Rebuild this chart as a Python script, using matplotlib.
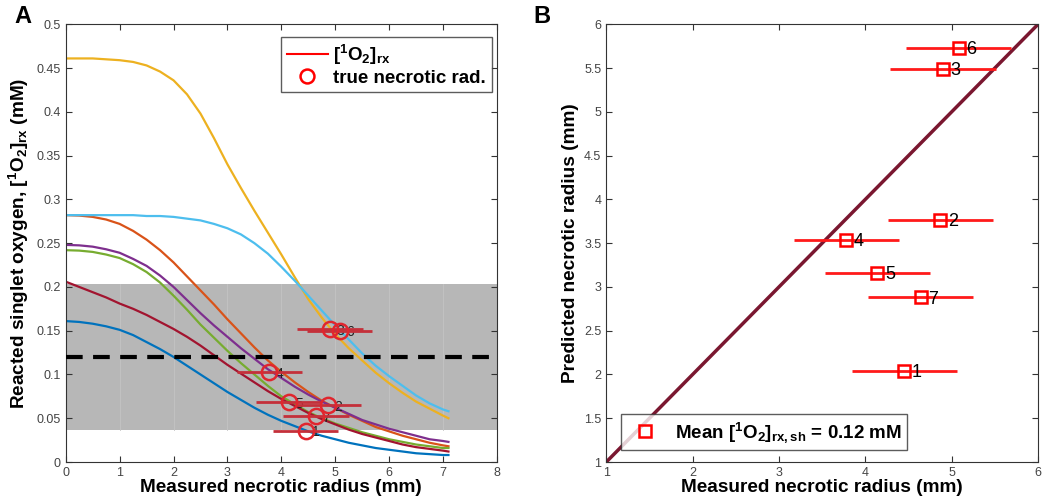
import numpy as np
import matplotlib.pyplot as plt
from matplotlib.lines import Line2D

plt.rcParams['font.family'] = ['Liberation Sans', 'DejaVu Sans']
plt.rcParams['mathtext.default'] = 'regular'

## data
# panel A: reacted singlet oxygen profiles vs radius (mm)
r = [0, 0.25, 0.5, 0.75, 1, 1.25, 1.5, 1.75, 2, 2.25, 2.5, 2.75, 3, 3.25, 3.5, 3.75,
     4, 4.25, 4.5, 4.75, 5, 5.25, 5.5, 5.75, 6, 6.25, 6.5, 6.75, 7, 7.1]
o2_1 = [0.161, 0.160, 0.158, 0.155, 0.151, 0.145, 0.137, 0.129, 0.120, 0.110, 0.100, 0.090, 0.080, 0.071, 0.062,
        0.054, 0.047, 0.041, 0.035, 0.030, 0.026, 0.022, 0.019, 0.016, 0.014, 0.012, 0.010, 0.009, 0.008, 0.008]
o2_2 = [0.282, 0.2815, 0.280, 0.277, 0.272, 0.264, 0.254, 0.242, 0.228, 0.212, 0.196, 0.180, 0.163, 0.147, 0.131,
        0.116, 0.103, 0.091, 0.080, 0.070, 0.062, 0.054, 0.047, 0.040, 0.035, 0.030, 0.026, 0.022, 0.019, 0.018]
o2_3 = [0.461, 0.461, 0.461, 0.460, 0.459, 0.457, 0.453, 0.446, 0.436, 0.420, 0.398, 0.370, 0.340, 0.313, 0.287,
        0.262, 0.237, 0.211, 0.186, 0.165, 0.146, 0.130, 0.116, 0.102, 0.090, 0.079, 0.069, 0.061, 0.053, 0.050]
o2_4 = [0.248, 0.2475, 0.246, 0.243, 0.239, 0.232, 0.224, 0.213, 0.200, 0.185, 0.170, 0.156, 0.143, 0.130, 0.118,
        0.106, 0.096, 0.086, 0.077, 0.069, 0.062, 0.055, 0.048, 0.043, 0.038, 0.034, 0.030, 0.026, 0.024, 0.023]
o2_5 = [0.242, 0.2415, 0.240, 0.237, 0.233, 0.226, 0.217, 0.205, 0.190, 0.174, 0.157, 0.142, 0.127, 0.113, 0.100,
        0.087, 0.075, 0.066, 0.057, 0.050, 0.044, 0.039, 0.034, 0.030, 0.026, 0.023, 0.020, 0.018, 0.016, 0.016]
o2_6 = [0.282, 0.282, 0.282, 0.282, 0.282, 0.282, 0.281, 0.281, 0.280, 0.278, 0.276, 0.272, 0.267, 0.260, 0.250,
        0.238, 0.223, 0.207, 0.190, 0.173, 0.156, 0.140, 0.124, 0.110, 0.098, 0.087, 0.076, 0.067, 0.060, 0.058]
o2_7 = [0.206, 0.200, 0.194, 0.188, 0.181, 0.175, 0.168, 0.160, 0.152, 0.143, 0.133, 0.122, 0.111, 0.101, 0.091,
        0.081, 0.072, 0.064, 0.056, 0.049, 0.043, 0.037, 0.032, 0.028, 0.024, 0.020, 0.017, 0.015, 0.013, 0.012]
curves = [o2_1, o2_2, o2_3, o2_4, o2_5, o2_6, o2_7]
colors = ['#0072BD', '#D95319', '#EDB120', '#7E2F8E', '#77AC30', '#4DBEEE', '#A2142F']

# true necrotic radius (measured) and value on curve
labels = ['1', '2', '3', '4', '5', '6', '7']
meas_r = [4.45, 4.87, 4.90, 3.78, 4.14, 5.08, 4.64]
meas_o2 = [0.036, 0.065, 0.152, 0.103, 0.068, 0.150, 0.052]
meas_err = [0.61, 0.61, 0.61, 0.61, 0.61, 0.61, 0.61]
pred_r = [2.04, 3.77, 5.49, 3.54, 3.16, 5.73, 2.88]

mean_o2 = 0.12
band_lo, band_hi = 0.037, 0.203

fig = plt.figure(figsize=(10.5, 5.01), dpi=100)

## panel A
ax = fig.add_axes([0.0626, 0.0778, 0.4107, 0.8737])
ax.axhspan(band_lo, band_hi, color='#b7b7b7', lw=0, zorder=0)
for xv in range(1, 8):
    ax.plot([xv, xv], [band_lo, band_hi], color='#c3c3c3', lw=0.6, zorder=0.5)
for c, col in zip(curves, colors):
    ax.plot(r, c, color=col, lw=1.6, zorder=2)
ax.axhline(mean_o2, color='black', ls=(0, (4, 2.5)), lw=3, zorder=3)
ax.errorbar(meas_r, meas_o2, xerr=meas_err, fmt='none', ecolor='#c4303a', elinewidth=2, zorder=4)
ax.plot(meas_r, meas_o2, 'o', mfc='none', mec='#e0262e', mew=1.8, ms=11, zorder=5)
for x, y, s in zip(meas_r, meas_o2, labels):
    ax.text(x + 0.12, y - 0.002, s, fontsize=10, color='#222222', va='center', ha='left', zorder=3.5)

ax.set_xlim(0, 8)
ax.set_ylim(0, 0.5)
ax.set_xticks(range(0, 9))
ax.set_yticks(np.arange(0, 0.501, 0.05))
ax.set_yticklabels(['0', '0.05', '0.1', '0.15', '0.2', '0.25', '0.3', '0.35', '0.4', '0.45', '0.5'])
ax.tick_params(direction='in', top=True, right=True, labelsize=9, labelcolor='#444444', length=4, color='#333333')
for sp in ax.spines.values():
    sp.set_color('#333333')
ax.set_xlabel('Measured necrotic radius (mm)', fontsize=13.7, fontweight='bold', labelpad=0)
ax.set_ylabel('Reacted singlet oxygen, [$^1$O$_2$]$_{rx}$ (mM)', fontsize=13.7, fontweight='bold', labelpad=4)
hA = [Line2D([], [], color='red', lw=1.5), Line2D([], [], ls='none', marker='o', mfc='none', mec='red', mew=1.8, ms=10)]
legA = ax.legend(hA, ['[$^1$O$_2$]$_{rx}$', 'true necrotic rad.'], loc='upper right', fancybox=False,
                 edgecolor='#333333', prop={'weight': 'bold', 'size': 13.5}, handlelength=2.2,
                 borderpad=0.3, labelspacing=0.15, handletextpad=0.3, borderaxespad=0,
                 bbox_to_anchor=(0.988, 0.971))
legA.get_frame().set_linewidth(1.0)
fig.text(0.014, 0.955, 'A', fontsize=17, fontweight='bold')

## panel B
bx = fig.add_axes([0.5774, 0.0778, 0.4112, 0.8737])
bx.plot([1, 6], [1, 6], color='#7a1730', lw=2.5, zorder=2)
bx.errorbar(meas_r, pred_r, xerr=meas_err, fmt='none', ecolor='#ff1a1a', elinewidth=2, zorder=3)
bx.plot(meas_r, pred_r, 's', mfc='none', mec='red', mew=1.8, ms=9, zorder=4)
for x, y, s in zip(meas_r, pred_r, labels):
    bx.text(x + 0.09, y - 0.02, s, fontsize=13, color='black', va='center', ha='left', zorder=5)
bx.set_xlim(1, 6)
bx.set_ylim(1, 6)
bx.set_xticks(range(1, 7))
bx.set_yticks(np.arange(1, 6.01, 0.5))
bx.set_yticklabels(['1', '1.5', '2', '2.5', '3', '3.5', '4', '4.5', '5', '5.5', '6'])
bx.tick_params(direction='in', top=True, right=True, labelsize=9, labelcolor='#444444', length=4, color='#333333')
for sp in bx.spines.values():
    sp.set_color('#333333')
bx.set_xlabel('Measured necrotic radius (mm)', fontsize=13.7, fontweight='bold', labelpad=0)
bx.set_ylabel('Predicted necrotic radius (mm)', fontsize=13.7, fontweight='bold', labelpad=4)
hB = [Line2D([], [], ls='none', marker='s', mfc='none', mec='red', mew=1.8, ms=9)]
legB = bx.legend(hB, ['Mean [$^1$O$_2$]$_{rx,sh}$ = 0.12 mM'], loc='lower left', fancybox=False,
                 edgecolor='#333333', prop={'weight': 'bold', 'size': 13.5}, handlelength=2.0,
                 borderpad=0.3, handletextpad=0.6, borderaxespad=0, bbox_to_anchor=(0.033, 0.027))
legB.get_frame().set_linewidth(1.0)
fig.text(0.508, 0.955, 'B', fontsize=17, fontweight='bold')

plt.savefig('out.png', dpi=100)
